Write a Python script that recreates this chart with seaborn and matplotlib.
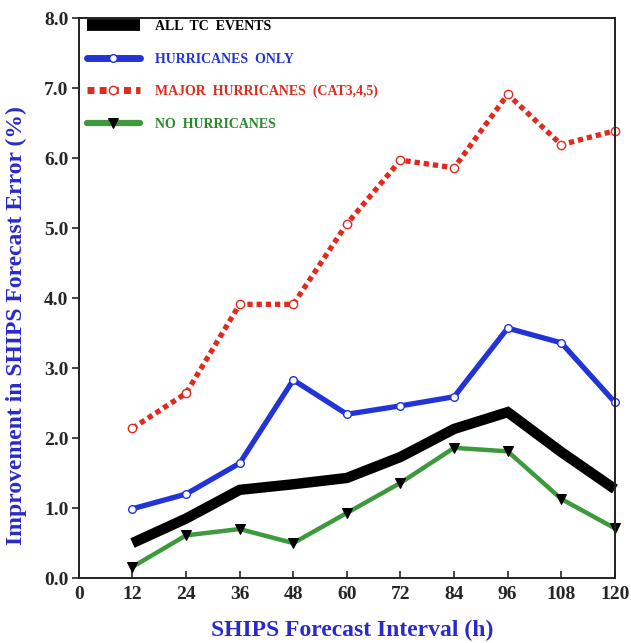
import matplotlib
matplotlib.use("Agg")
import matplotlib.pyplot as plt
import seaborn as sns
import pandas as pd

# Forecast interval (h)
hours = [12, 24, 36, 48, 60, 72, 84, 96, 108, 120]

# Improvement in SHIPS forecast error (%)
all_tc = [0.50, 0.85, 1.26, 1.34, 1.43, 1.73, 2.13, 2.37, 1.80, 1.27]
hurricanes = [0.99, 1.20, 1.64, 2.83, 2.34, 2.46, 2.59, 3.57, 3.36, 2.51]
major = [2.14, 2.64, 3.91, 3.91, 5.06, 5.97, 5.86, 6.91, 6.19, 6.39]
no_hurr = [0.16, 0.61, 0.70, 0.50, 0.93, 1.36, 1.86, 1.81, 1.13, 0.71]

labels = ["ALL  TC  EVENTS", "HURRICANES  ONLY",
          "MAJOR  HURRICANES  (CAT3,4,5)", "NO  HURRICANES"]
x_ticks = [0, 12, 24, 36, 48, 60, 72, 84, 96, 108, 120]
y_ticks = [0, 1, 2, 3, 4, 5, 6, 7, 8]

sns.set_style("ticks")
plt.rcParams["font.family"] = ["Liberation Serif", "DejaVu Serif"]
plt.rcParams["font.weight"] = "bold"

BLUE = "#2233d8"
RED = "#e02a1e"
GREEN = "#3c9a3c"
LABEL_BLUE = "#2a2ac8"

df = pd.DataFrame({"h": hours, "all": all_tc, "hur": hurricanes,
                   "maj": major, "no": no_hurr})

fig = plt.figure(figsize=(6.31, 6.43), dpi=100)
ax = fig.add_axes([0.125, 0.101, 0.8495, 0.871])

sns.lineplot(data=df, x="h", y="all", ax=ax, color="black", lw=7.5,
             solid_capstyle="butt", solid_joinstyle="miter", label=labels[0])
sns.lineplot(data=df, x="h", y="hur", ax=ax, color=BLUE, lw=3.8,
             marker="o", markersize=5.5, markerfacecolor="white",
             markeredgecolor=BLUE, markeredgewidth=1.0, label=labels[1])
sns.lineplot(data=df, x="h", y="maj", ax=ax, color=RED, lw=3.8,
             dashes=False, label=labels[2])
red_line = ax.lines[-1]
red_line.set_linestyle((0, (1.0, 0.75)))
red_line.set_dash_capstyle("butt")
red_line.set_marker("o")
red_line.set_markersize(6)
red_line.set_markerfacecolor("white")
red_line.set_markeredgecolor(RED)
red_line.set_markeredgewidth(1.0)
sns.lineplot(data=df, x="h", y="no", ax=ax, color=GREEN, lw=3.2,
             marker="v", markersize=7, markerfacecolor="black",
             markeredgecolor="black", label=labels[3])
for ln in ax.lines:
    ln.set_clip_on(False)

ax.set_xlim(0, 120)
ax.set_ylim(0, 8)
ax.set_xticks(x_ticks)
ax.set_xticklabels([str(t) for t in x_ticks])
ax.set_yticks(y_ticks)
ax.set_yticklabels([f"{t:.1f}" for t in y_ticks])
ax.tick_params(axis="x", direction="in", length=5, width=1.2,
               labelsize=14, pad=6)
ax.tick_params(axis="y", direction="out", length=5, width=1.2,
               labelsize=14, pad=2.5)
for s in ax.spines.values():
    s.set_linewidth(1.4)
    s.set_color("#222222")

ax.set_xlabel("SHIPS Forecast Interval (h)", color=LABEL_BLUE,
              fontsize=17, fontweight="bold")
ax.set_ylabel("Improvement in SHIPS Forecast Error (%)", color=LABEL_BLUE,
              fontsize=17, fontweight="bold")
ax.xaxis.set_label_coords(0.51, -0.075)
ax.yaxis.set_label_coords(-0.097, 0.45)

leg = ax.legend(loc="upper left", bbox_to_anchor=(0.011, 1.0),
                frameon=False, fontsize=10, handlelength=3.8,
                handletextpad=1.1, labelspacing=1.4, borderaxespad=0,
                borderpad=0.15, numpoints=1)
for txt, col in zip(leg.get_texts(), ["black", BLUE, RED, "#2a8a2a"]):
    txt.set_color(col)
for h, w in zip(leg.get_lines(), [8.5, 5, 5, 4.5]):
    h.set_linewidth(w)

fig.savefig("out.png", dpi=100)
